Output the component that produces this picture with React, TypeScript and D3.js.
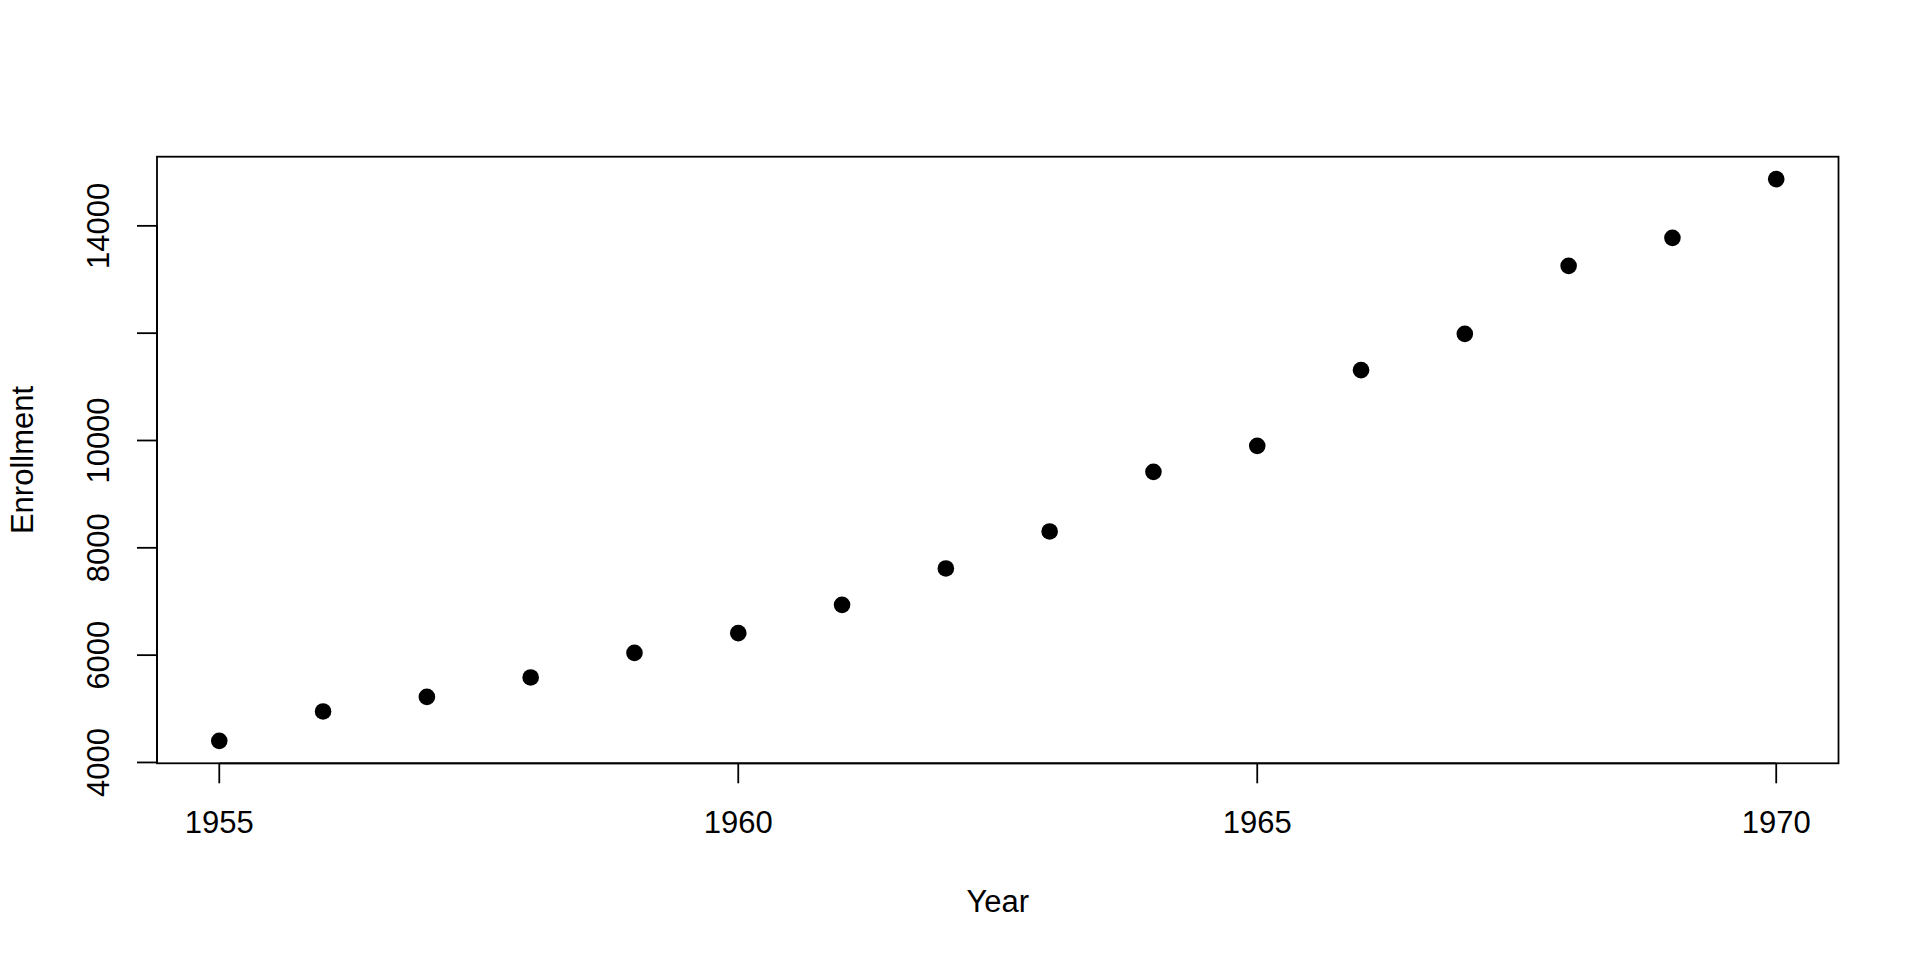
import React from "react";
import * as d3 from "d3";

const years = [1955, 1956, 1957, 1958, 1959, 1960, 1961, 1962, 1963, 1964, 1965, 1966, 1967, 1968, 1969, 1970];
const enrollment = [4403, 4950, 5222, 5584, 6042, 6410, 6937, 7615, 8305, 9416, 9900, 11311, 11987, 13255, 13776, 14870];
const xTicks = [1955, 1960, 1965, 1970];
const yTicks = [4000, 6000, 8000, 10000, 12000, 14000];
const yTickLabels = ["4000", "6000", "8000", "10000", "", "14000"];
const xTitle = "Year";
const yTitle = "Enrollment";

const W = 1920;
const H = 960;
const left = 157;
const right = 1838.5;
const top = 156.7;
const bottom = 763.3;
const FONT = "'Liberation Sans', Arial, Helvetica, sans-serif";
const FS = 31;

function pad(ext: [number, number]): [number, number] {
  const r = ext[1] - ext[0];
  return [ext[0] - 0.04 * r, ext[1] + 0.04 * r];
}

export default function App() {
  const x = d3.scaleLinear().domain(pad(d3.extent(years) as [number, number])).range([left, right]);
  const y = d3.scaleLinear().domain(pad(d3.extent(enrollment) as [number, number])).range([bottom, top]);
  const tickLen = 20;
  const sw = 1.8;
  return (
    <div style={{ position: "fixed", left: 0, top: 0, width: W, height: H, background: "#fff" }}>
      <svg width={W} height={H} style={{ display: "block" }} fontFamily={FONT}>
        <rect x={0} y={0} width={W} height={H} fill="#fff" />
        <rect x={left} y={top} width={right - left} height={bottom - top} fill="none" stroke="#000" strokeWidth={sw} />
        {/* x axis */}
        <line x1={x(xTicks[0])} x2={x(xTicks[xTicks.length - 1])} y1={bottom} y2={bottom} stroke="#000" strokeWidth={sw} />
        {xTicks.map((t) => (
          <g key={"xt" + t}>
            <line x1={x(t)} x2={x(t)} y1={bottom} y2={bottom + tickLen} stroke="#000" strokeWidth={sw} />
            <text x={x(t)} y={833} fontSize={FS} textAnchor="middle" fill="#000">
              {String(t)}
            </text>
          </g>
        ))}
        {/* y axis */}
        <line x1={left} x2={left} y1={y(yTicks[0])} y2={y(yTicks[yTicks.length - 1])} stroke="#000" strokeWidth={sw} />
        {yTicks.map((t, i) => (
          <g key={"yt" + t}>
            <line x1={left - tickLen} x2={left} y1={y(t)} y2={y(t)} stroke="#000" strokeWidth={sw} />
            {yTickLabels[i] && (
              <text
                transform={`translate(109,${y(t)}) rotate(-90)`}
                fontSize={FS}
                textAnchor="middle"
                fill="#000"
              >
                {yTickLabels[i]}
              </text>
            )}
          </g>
        ))}
        {/* points */}
        {years.map((yr, i) => (
          <circle key={"p" + yr} cx={x(yr)} cy={y(enrollment[i])} r={8.3} fill="#000" />
        ))}
        {/* titles */}
        <text x={(left + right) / 2} y={911.7} fontSize={FS} textAnchor="middle" fill="#000">
          {xTitle}
        </text>
        <text
          transform={`translate(33,${(top + bottom) / 2}) rotate(-90)`}
          fontSize={FS}
          textAnchor="middle"
          fill="#000"
        >
          {yTitle}
        </text>
      </svg>
    </div>
  );
}
